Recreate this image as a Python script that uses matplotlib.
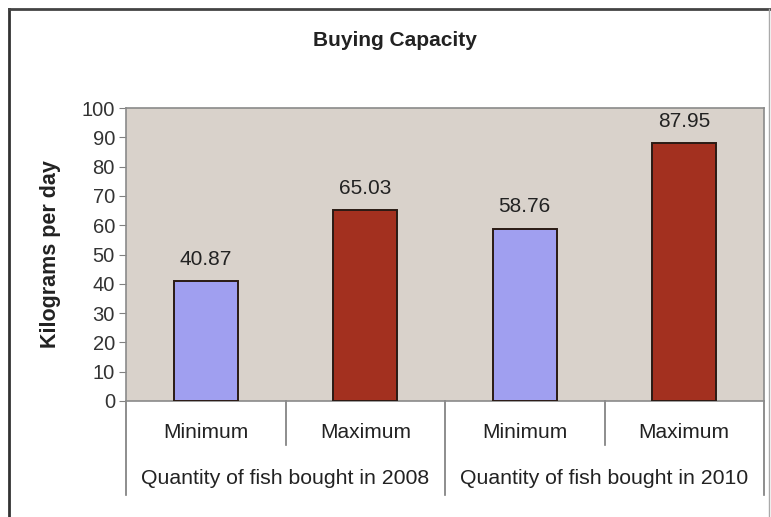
import matplotlib.pyplot as plt
from matplotlib.lines import Line2D
import matplotlib.transforms as mtransforms

plt.rcParams['font.family'] = ['Liberation Sans', 'DejaVu Sans']

# chart data
measures = ['Minimum', 'Maximum', 'Minimum', 'Maximum']
years = ['Quantity of fish bought in 2008', 'Quantity of fish bought in 2010']
kg_per_day = [40.87, 65.03, 58.76, 87.95]
bar_colors = ['#a09ff0', '#a3301f', '#a09ff0', '#a3301f']

fig = plt.figure(figsize=(7.71, 5.17), dpi=100)
ax = fig.add_axes([126/771, 1 - 401/517, 638/771, 293/517])
ax.set_facecolor('#d9d2cb')

x = list(range(len(kg_per_day)))
bars = ax.bar(x, kg_per_day, width=0.4, color=bar_colors,
              edgecolor='#2a1a14', linewidth=1.4, zorder=3)
for b, v in zip(bars, kg_per_day):
    ax.annotate('%.2f' % v, (b.get_x() + b.get_width() / 2, v),
                xytext=(0, 9), textcoords='offset points',
                ha='center', va='bottom', fontsize=15, color='#222222')

ax.set_xlim(-0.5, len(x) - 0.5)
ax.set_ylim(0, 100)
ax.set_yticks(range(0, 101, 10))
ax.tick_params(axis='y', labelsize=14.5, length=5, color='#808080',
               labelcolor='#333333', pad=3)
ax.set_xticks([])
for s in ax.spines.values():
    s.set_color('#8a8a8a')
    s.set_linewidth(1.2)

ax.set_ylabel('Kilograms per day', fontsize=15.5, fontweight='bold',
              color='#222222', labelpad=15)
fig.text(395/771, 1 - 41/517, 'Buying Capacity', ha='center', va='center',
         fontsize=15, fontweight='bold', color='#222222')

# two-level category axis below the plot
trans = mtransforms.blended_transform_factory(ax.transData, ax.transAxes)
for i, name in enumerate(measures):
    ax.text(i, -0.109, name, transform=trans, ha='center', va='center',
            fontsize=15, color='#222222')
for k in range(len(x) + 1):
    edge = k - 0.5
    low = -0.322 if k % 2 == 0 else -0.150
    ax.add_line(Line2D([edge, edge], [0, low], transform=trans,
                       color='#7a7a7a', linewidth=1.2, clip_on=False))
for j, name in enumerate(years):
    ax.text(2 * j + 0.5, -0.263, name, transform=trans, ha='center',
            va='center', fontsize=15.3, color='#222222')

# outer chart frame
fig.add_artist(Line2D([9/771, 9/771], [0, 1 - 9/517], transform=fig.transFigure,
                      color='#333333', linewidth=2))
fig.add_artist(Line2D([9/771, 1], [1 - 9/517, 1 - 9/517], transform=fig.transFigure,
                      color='#444444', linewidth=2))
fig.add_artist(Line2D([769/771, 769/771], [0, 1 - 9/517], transform=fig.transFigure,
                      color='#aaaaaa', linewidth=1))

fig.savefig('out.png', dpi=100)
